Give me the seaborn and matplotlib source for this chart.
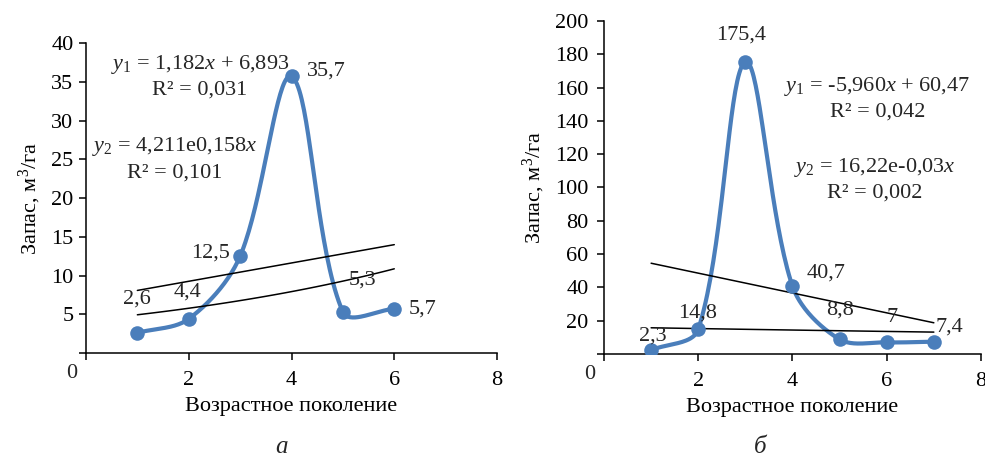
import matplotlib
matplotlib.use("Agg")
import matplotlib.pyplot as plt
import numpy as np
import seaborn as sns

# panel a
gen_a = [1, 2, 3, 4, 5, 6]
stock_a = [2.6, 4.4, 12.5, 35.7, 5.3, 5.7]
labels_a = ["2,6", "4,4", "12,5", "35,7", "5,3", "5,7"]
lin_a = [1.182, 6.893]      # y1 = k*x + b
exp_a = [4.211, 0.158]      # y2 = a*e^(c*x)

# panel b
gen_b = [1, 2, 3, 4, 5, 6, 7]
stock_b = [2.3, 14.8, 175.4, 40.7, 8.8, 7.0, 7.4]
labels_b = ["2,3", "14,8", "175,4", "40,7", "8,8", "7", "7,4"]
lin_b = [-5.960, 60.47]
exp_b = [16.22, -0.03]

BLUE = "#4a7ebb"
FS = 16

sns.set_theme(style="ticks")
plt.rcParams["font.family"] = ["Liberation Serif", "DejaVu Serif"]
plt.rcParams["mathtext.fontset"] = "custom"
plt.rcParams["mathtext.rm"] = "Liberation Serif"
plt.rcParams["mathtext.it"] = "Liberation Serif:italic"


def smooth_curve(xs, ys, sx, sy, n=40):
    # bezier smoothing like spreadsheet "smoothed line", tangents scaled by chord length in pixels
    p = np.column_stack([xs, ys]).astype(float)
    scale = np.array([sx, sy])
    out_x, out_y = [], []
    m = len(p)
    for i in range(m - 1):
        p0 = p[i - 1] if i > 0 else p[i]
        p1, p2 = p[i], p[i + 1]
        p3 = p[i + 2] if i + 2 < m else p[i + 1]
        d01 = np.linalg.norm((p1 - p0) * scale)
        d12 = np.linalg.norm((p2 - p1) * scale)
        d23 = np.linalg.norm((p3 - p2) * scale)
        c1 = p1 + (p2 - p0) * d12 / (3 * (d01 + d12))
        c2 = p2 - (p3 - p1) * d12 / (3 * (d12 + d23))
        t = np.linspace(0, 1, n)[:, None]
        seg = (1 - t) ** 3 * p1 + 3 * (1 - t) ** 2 * t * c1 + 3 * (1 - t) * t ** 2 * c2 + t ** 3 * p2
        out_x.extend(seg[:, 0])
        out_y.extend(seg[:, 1])
    return np.array(out_x), np.array(out_y)


def draw_panel(ax, xs, ys, labels, offsets, lin, expo, ymax, ystep, px_w, px_h):
    sx, sy = px_w / 8, px_h / ymax
    cx, cy = smooth_curve(xs, ys, sx, sy)
    sns.lineplot(x=cx, y=cy, ax=ax, color=BLUE, linewidth=3.0, sort=False, estimator=None)
    sns.scatterplot(x=xs, y=ys, ax=ax, color=BLUE, s=110, edgecolor=BLUE, linewidth=0, zorder=3)

    tx = np.linspace(xs[0], xs[-1], 50)
    ax.plot(tx, lin[0] * tx + lin[1], color="black", linewidth=1.1)
    ax.plot(tx, expo[0] * np.exp(expo[1] * tx), color="black", linewidth=1.1)

    for x, y, lab, off in zip(xs, ys, labels, offsets):
        ax.annotate(lab, (x, y), xytext=off, textcoords="offset pixels",
                    ha="center", va="center", fontsize=FS)

    ax.set_xlim(0, 8)
    ax.set_ylim(0, ymax)
    ax.set_xticks([0, 2, 4, 6, 8])
    ax.set_xticklabels(["", "2", "4", "6", "8"])
    yt = np.arange(0, ymax + 1, ystep)
    ax.set_yticks(yt)
    ax.set_yticklabels([""] + [str(int(v)) for v in yt[1:]])
    ax.annotate("0", (0, 0), xytext=(-14, -21), textcoords="offset pixels",
                ha="center", va="center", fontsize=FS)
    sns.despine(ax=ax)
    for side in ("left", "bottom"):
        ax.spines[side].set_color("black")
        ax.spines[side].set_linewidth(1.1)
    ax.tick_params(axis="both", colors="black", labelsize=FS, width=1.1, direction="out")
    ax.tick_params(axis="x", length=5, pad=8)
    ax.tick_params(axis="y", length=5, pad=4)
    ax.set_xlabel("Возрастное поколение", fontsize=FS, color="black", labelpad=5)
    ax.set_ylabel("Запас, м$^3$/га", fontsize=FS, color="black", labelpad=6)


fig = plt.figure(figsize=(9.85, 4.57), dpi=100)
ax_a = fig.add_axes([0.0873, 0.2276, 0.4173, 0.678])
ax_b = fig.add_axes([0.6132, 0.2254, 0.3827, 0.7287])

off_a = [(0, 34), (-1, 27), (-30, 3), (35, 5), (20, 32), (28, 0)]
draw_panel(ax_a, gen_a, stock_a, labels_a, off_a, lin_a, exp_a, 40, 5, 411, 310)
ax_a.text(2.22, 37.2, r"$y_1$ = 1,182$x$ + 6,893", ha="center", va="center", fontsize=FS)
ax_a.text(2.22, 33.9, "R² = 0,031", ha="center", va="center", fontsize=FS)
ax_a.text(1.73, 26.6, r"$y_2$ = 4,211e0,158$x$", ha="center", va="center", fontsize=FS)
ax_a.text(1.73, 23.2, "R² = 0,101", ha="center", va="center", fontsize=FS)

off_b = [(2, 14), (-1, 16), (-4, 27), (34, 13), (0, 29), (5, 25), (16, 15)]
draw_panel(ax_b, gen_b, stock_b, labels_b, off_b, lin_b, exp_b, 200, 20, 377, 333)
ax_b.tick_params(axis="y", pad=6)
ax_b.text(5.80, 160.4, r"$y_1$ = -5,960$x$ + 60,47", ha="center", va="center", fontsize=FS)
ax_b.text(5.80, 145.3, "R² = 0,042", ha="center", va="center", fontsize=FS)
ax_b.text(5.75, 112.3, r"$y_2$ = 16,22e-0,03$x$", ha="center", va="center", fontsize=FS)
ax_b.text(5.75, 96.7, "R² = 0,002", ha="center", va="center", fontsize=FS)

fig.text(282 / 985, 1 - 447 / 457, "а", ha="center", va="center", fontsize=18, style="italic")
fig.text(760 / 985, 1 - 447 / 457, "б", ha="center", va="center", fontsize=18, style="italic")

fig.savefig("out.png", dpi=100)
